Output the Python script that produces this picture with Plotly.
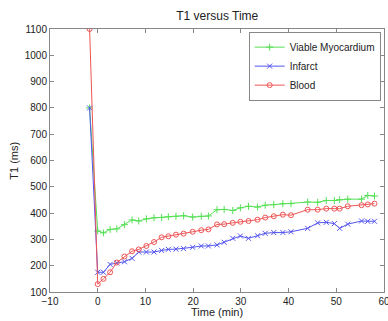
import plotly.graph_objects as go

time_min = [-1.7, 0, 1.2, 2.6, 4.0, 5.6, 7.2, 8.6, 10.2, 11.8, 13.4, 14.8, 16.4, 18.0,
            19.9, 21.7, 23.2, 25.0, 26.5, 28.3, 29.9, 31.6, 33.5, 35.1, 36.9, 38.8,
            40.5, 44.0, 46.1, 47.9, 49.6, 50.7, 52.4, 55.3, 56.6, 58.0]
viable = [800, 332, 325, 338, 340, 356, 374, 370, 378, 382, 383, 386, 388, 390,
          385, 388, 389, 413, 414, 410, 420, 426, 423, 430, 432, 436,
          436, 442, 441, 448, 448, 451, 453, 453, 467, 465]
infarct = [800, 175, 175, 205, 210, 215, 228, 252, 252, 252, 258, 262, 263, 265,
           270, 275, 275, 279, 289, 304, 313, 304, 314, 323, 326, 326,
           329, 342, 363, 365, 360, 342, 358, 370, 369, 369]
blood = [1100, 130, 150, 175, 212, 235, 255, 262, 275, 290, 308, 312, 318, 322,
         329, 335, 338, 357, 358, 363, 367, 370, 375, 383, 388, 394,
         392, 413, 413, 417, 417, 417, 426, 430, 433, 436]

series = [
    ("Viable Myocardium", viable, "#55e055", "cross-thin-open"),
    ("Infarct", infarct, "#5555ee", "x-thin-open"),
    ("Blood", blood, "#ee5555", "circle-open"),
]

FONT = "Liberation Sans, Arial"
TXT = "#222222"

fig = go.Figure()
for name, vals, col, sym in series:
    fig.add_trace(go.Scatter(
        x=time_min, y=vals, name=name, mode="lines+markers",
        line=dict(color=col, width=1),
        marker=dict(symbol=sym, size=5, color=col, line=dict(color=col, width=1)),
    ))

axis_common = dict(
    showgrid=False, zeroline=False, showline=True, linecolor="#888888", linewidth=1,
    mirror="ticks", ticks="inside", ticklen=4, tickcolor="#888888", automargin=False,
    ticklabeloverflow="allow",
    tickfont=dict(family=FONT, size=10, color=TXT),
)

fig.update_layout(
    width=388, height=321,
    margin=dict(l=50, r=4, t=29, b=29),
    paper_bgcolor="white", plot_bgcolor="white",
    title=dict(text="T1 versus Time", x=0.56, xanchor="center", y=1 - 16 / 321, yanchor="middle",
               font=dict(family=FONT, size=12, color=TXT)),
    xaxis=dict(range=[-10, 60], dtick=10, tick0=0, **axis_common),
    yaxis=dict(range=[100, 1100], dtick=100, tick0=0, **axis_common),
    legend=dict(x=0.99, y=0.99, xanchor="right", yanchor="top",
                bordercolor="#888888", borderwidth=1, bgcolor="white",
                font=dict(family=FONT, size=10, color=TXT),
                tracegroupgap=0, itemwidth=30),
    showlegend=True,
    annotations=[
        dict(text="Time (min)", xref="paper", yref="paper", x=0.5, y=-0.045,
             xanchor="center", yanchor="top", showarrow=False,
             font=dict(family=FONT, size=11, color=TXT)),
        dict(text="T1 (ms)", xref="paper", yref="paper", x=-0.11, y=0.5,
             xanchor="center", yanchor="middle", textangle=-90, showarrow=False,
             font=dict(family=FONT, size=11, color=TXT)),
    ],
)

fig.write_html("out.html", config={"displayModeBar": False},
               post_script="document.body.style.margin='0';document.body.style.overflow='hidden';")
